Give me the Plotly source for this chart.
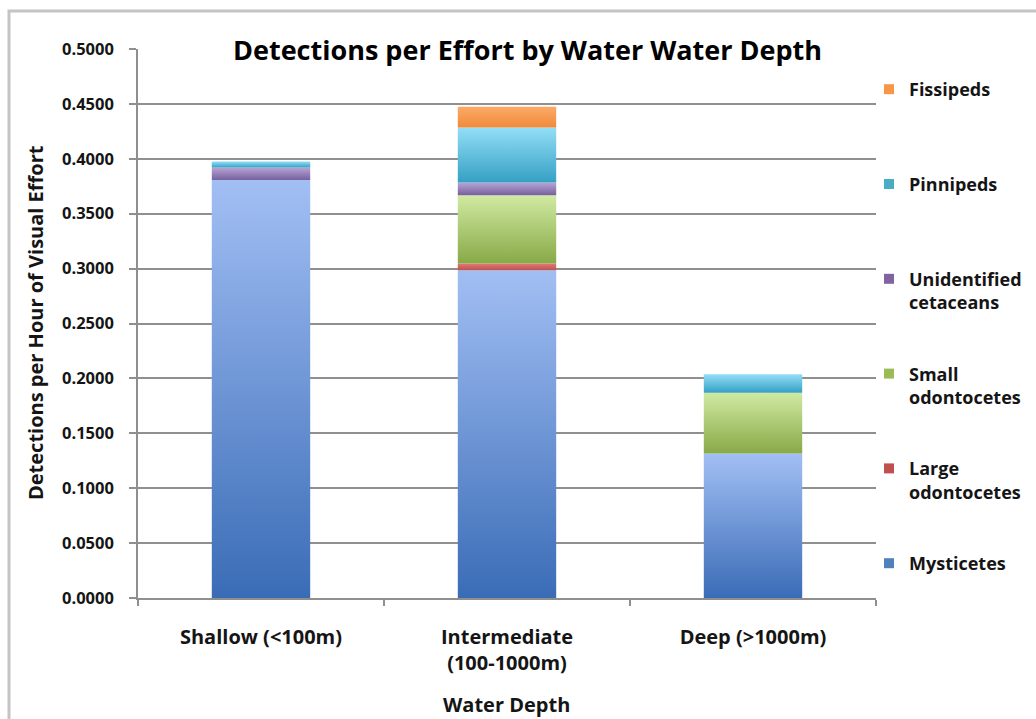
import plotly.graph_objects as go

# Detections per hour of visual effort, by depth stratum
categories = ["Shallow (<100m)", "Intermediate<br>(100-1000m)", "Deep (>1000m)"]
mysticetes = [0.3807, 0.2985, 0.1315]
large_odontocetes = [0.0, 0.0062, 0.0]
small_odontocetes = [0.0, 0.0622, 0.0555]
unidentified_cetaceans = [0.0113, 0.0115, 0.0]
pinnipeds = [0.0055, 0.0500, 0.0168]
fissipeds = [0.0, 0.0190, 0.0]
y_ticks = [0.0, 0.05, 0.10, 0.15, 0.20, 0.25, 0.30, 0.35, 0.40, 0.45, 0.50]

# stacking order (bottom to top) with legend labels
series = [
    ("Mysticetes", "Mysticetes", mysticetes),
    ("Large odontocetes", "Large<br>odontocetes", large_odontocetes),
    ("Small odontocetes", "Small<br>odontocetes", small_odontocetes),
    ("Unidentified cetaceans", "Unidentified<br>cetaceans", unidentified_cetaceans),
    ("Pinnipeds", "Pinnipeds", pinnipeds),
    ("Fissipeds", "Fissipeds", fissipeds),
]

# (legend swatch, gradient bottom, gradient top)
styles = {
    "Mysticetes": ("#4f81bd", "#3a6cb6", "#a2bff4"),
    "Large odontocetes": ("#c0504d", "#c0504d", "#e07a76"),
    "Small odontocetes": ("#9bbb59", "#88a947", "#d0eaa2"),
    "Unidentified cetaceans": ("#8064a2", "#77609e", "#b7a5d6"),
    "Pinnipeds": ("#4bacc6", "#35a0c4", "#93def7"),
    "Fissipeds": ("#f79646", "#f08a3a", "#fcaa68"),
}

BAR_WIDTH = 0.4
FONT = "Open Sans"
TEXT = "#151515"
GRID = "#8f8f8f"

fig = go.Figure()

# legend entries, top to bottom
for key, label, _ in reversed(series):
    lines = label.count("<br>") + 1
    shown = label + ("<br> " if lines == 1 else "")
    fig.add_trace(go.Scatter(
        x=[None], y=[None], mode="markers", name=shown, legendgroup=key,
        marker=dict(symbol="square", size=10, color=styles[key][0]),
        hoverinfo="skip",
    ))

# stacked segments with vertical gradient fills
base = [0.0] * len(categories)
for key, label, values in series:
    _, bottom, top = styles[key]
    for i, v in enumerate(values):
        if v <= 0:
            continue
        y0, y1 = base[i], base[i] + v
        x0, x1 = i - BAR_WIDTH / 2, i + BAR_WIDTH / 2
        fig.add_trace(go.Scatter(
            x=[x0, x1, x1, x0, x0], y=[y0, y0, y1, y1, y0],
            mode="lines", line=dict(width=0), fill="toself",
            fillgradient=dict(type="vertical", colorscale=[[0, bottom], [1, top]]),
            legendgroup=key, showlegend=False, name=key,
            hoveron="fills", hoverinfo="text",
            text=f"{key}: {v:.4f}",
        ))
        base[i] = y1

W, H = 1036, 719
L, R, T, B = 138, 160, 49, 121
pw, ph = W - L - R, H - T - B


def px_x(x):
    return (x - L) / pw


def px_y(y):
    return 1 - (y - T) / ph


fig.update_layout(
    width=W, height=H,
    margin=dict(l=L, r=R, t=T, b=B, autoexpand=False),
    paper_bgcolor="white", plot_bgcolor="white",
    font=dict(family=FONT, color=TEXT),
    showlegend=True,
    legend=dict(
        x=px_x(869), y=px_y(71), xanchor="left", yanchor="top",
        traceorder="grouped", tracegroupgap=45, valign="top",
        font=dict(family=FONT, size=18, color=TEXT, weight="bold"),
        bgcolor="rgba(0,0,0,0)",
    ),
    xaxis=dict(
        range=[-0.5, 2.5], showgrid=False, zeroline=False,
        tickvals=list(range(len(categories))), ticktext=categories,
        ticks="", ticklabelstandoff=20,
        tickfont=dict(family=FONT, size=20, color=TEXT, weight="bold"),
        showline=True, linecolor=GRID, linewidth=1.5,
        minor=dict(tickvals=[-0.5, 0.5, 1.5, 2.5], ticks="outside",
                   ticklen=6, tickcolor=GRID, tickwidth=1.5, showgrid=False),
        fixedrange=True,
    ),
    yaxis=dict(
        range=[0, 0.5], tickvals=y_ticks,
        ticktext=[f"{t:.4f}" for t in y_ticks],
        ticks="outside", ticklen=7, tickcolor=GRID, tickwidth=1.5,
        ticklabelstandoff=12,
        tickfont=dict(family=FONT, size=16.5, color=TEXT, weight="bold"),
        showgrid=True, gridcolor=GRID, gridwidth=1.5, zeroline=False,
        showline=True, linecolor=GRID, linewidth=1.5,
        fixedrange=True,
    ),
    annotations=[
        dict(text="Detections per Effort by Water Water Depth",
             x=px_x(527), y=px_y(49), xref="paper", yref="paper",
             xanchor="center", yanchor="middle", showarrow=False,
             font=dict(family=FONT, size=27, color="#000000", weight="bold")),
        dict(text="Detections per Hour of Visual Effort",
             x=px_x(35), y=px_y(323), xref="paper", yref="paper", textangle=-90,
             xanchor="center", yanchor="middle", showarrow=False,
             font=dict(family=FONT, size=20, color=TEXT, weight="bold")),
        dict(text="Water Depth",
             x=px_x(506), y=px_y(704), xref="paper", yref="paper",
             xanchor="center", yanchor="middle", showarrow=False,
             font=dict(family=FONT, size=20, color=TEXT, weight="bold")),
    ],
    shapes=[
        dict(type="path", xref="paper", yref="paper",
             path=f"M {px_x(9)},{px_y(760)} L {px_x(9)},{px_y(11)} L {px_x(1100)},{px_y(11)}",
             line=dict(color="#c4c4c4", width=3)),
    ],
)

fig.write_html("out.html")
